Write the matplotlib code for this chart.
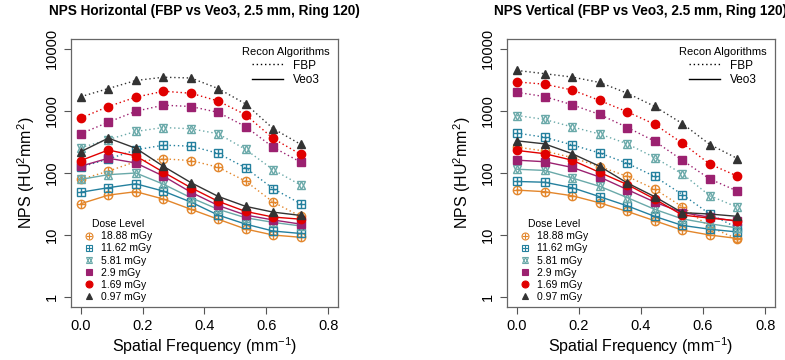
import matplotlib.pyplot as plt
from matplotlib.lines import Line2D
from matplotlib.legend_handler import HandlerTuple

plt.rcParams['font.family'] = ['Liberation Sans', 'DejaVu Sans']
plt.rcParams['mathtext.fontset'] = 'custom'
plt.rcParams['mathtext.rm'] = 'Liberation Sans'

# spatial frequency (mm^-1)
freq = [0.0, 0.089, 0.178, 0.267, 0.356, 0.444, 0.533, 0.622, 0.711]

dose_labels = ["18.88 mGy", "11.62 mGy", "5.81 mGy", "2.9 mGy", "1.69 mGy", "0.97 mGy"]

# NPS horizontal, FBP (order as dose_labels)
h_fbp = [
    [79, 107, 153, 169, 159, 124, 74, 34, 20],
    [125, 168, 236, 281, 271, 208, 121, 56, 32],
    [256, 346, 468, 541, 516, 430, 240, 113, 64],
    [430, 660, 990, 1240, 1180, 950, 560, 260, 150],
    [770, 1180, 1670, 2080, 1930, 1450, 870, 360, 200],
    [1700, 2300, 3100, 3500, 3400, 2300, 1300, 520, 290],
]
# NPS horizontal, Veo3
h_veo = [
    [32, 44, 50, 38, 26, 18, 12.5, 10, 9.2],
    [49, 58, 67, 51, 34, 21, 15, 11.6, 10.6],
    [79, 94, 100, 66, 40, 26, 19, 16, 14],
    [129, 173, 145, 89, 49, 30, 21, 17.5, 15],
    [159, 235, 188, 103, 58, 35, 24, 19.5, 18],
    [221, 365, 250, 128, 70, 42, 29, 23.4, 20.7],
]
# NPS vertical, FBP
v_fbp = [
    [262, 226, 177, 127, 88, 55, 28.6, 13.5, 8.6],
    [440, 377, 284, 210, 143, 88, 45, 21.8, 13],
    [845, 731, 553, 425, 295, 177, 97, 43, 28],
    [2000, 1705, 1260, 877, 541, 326, 161, 80, 51],
    [2940, 2700, 2180, 1475, 968, 610, 303, 139, 89],
    [4500, 3990, 3520, 2880, 1930, 1185, 627, 288, 171],
]
# NPS vertical, Veo3
v_veo = [
    [53, 50, 43, 33, 24, 17, 12, 10, 8.8],
    [73, 71, 58, 41.5, 29.5, 20, 14.3, 12.4, 11.2],
    [115, 110, 83, 61, 40, 26, 18.2, 15.2, 13],
    [161, 152, 123, 86, 54, 34, 23, 19.4, 16.6],
    [231, 205, 161, 102, 65, 38, 21, 18.7, 17],
    [330, 295, 205, 128, 69, 41.5, 23, 21.8, 20],
]

colors = ["#E3862B", "#24809E", "#6AA9A9", "#9B2170", "#E00000", "#333333"]
# each dose drawn as one or two overlaid markers (R pch 10, 12, 11, 15, 16, 17)
markers = [
    [("o", "none"), ("+", None)],
    [("s", "none"), ("+", None)],
    [("^", "none"), ("v", "none")],
    [("s", "full")],
    [("o", "full")],
    [("^", "full")],
]
dotted = (0, (1, 2))


def draw_series(ax, y, color, mk, ls):
    ax.plot(freq, y, color=color, lw=1, ls=ls)
    for m, fill in mk:
        kw = dict(marker=m, ms=6, color=color, ls="none", mew=1)
        if fill == "none":
            kw["mfc"] = "none"
        ax.plot(freq, y, **kw)


def marker_handle(color, mk):
    hs = []
    for m, fill in mk:
        kw = dict(marker=m, ms=5, color=color, ls="none", mew=0.8)
        if fill == "none":
            kw["mfc"] = "none"
        hs.append(Line2D([], [], **kw))
    return tuple(hs)


def setup_panel(ax, title, fbp, veo):
    for i in range(len(dose_labels)):
        draw_series(ax, fbp[i], colors[i], markers[i], dotted)
        draw_series(ax, veo[i], colors[i], markers[i], "-")
    ax.set_yscale("log")
    ax.set_xlim(-0.032, 0.832)
    ax.set_ylim(10 ** -0.16, 10 ** 4.16)
    ax.set_xticks([0.0, 0.2, 0.4, 0.6, 0.8])
    ax.set_xticklabels(["0.0", "0.2", "0.4", "0.6", "0.8"], fontsize=10.5)
    ax.set_yticks([1, 10, 100, 1000, 10000])
    ax.set_yticklabels(["1", "10", "100", "1000", "10000"], fontsize=10.5,
                       rotation=90, va="center")
    ax.minorticks_off()
    ax.tick_params(direction="out", length=5, color="#555555", width=0.8)
    for s in ax.spines.values():
        s.set_color("#666666")
        s.set_linewidth(0.9)
    ax.set_title(title, fontsize=9.8, fontweight="bold", pad=17)
    ax.set_xlabel("Spatial Frequency (mm$^{-1}$)", fontsize=11.5, labelpad=2)
    ax.set_ylabel("NPS (HU$^2$mm$^2$)", fontsize=11.5, labelpad=6)

    recon = [Line2D([], [], color="black", lw=1, ls=dotted),
             Line2D([], [], color="black", lw=1, ls="-")]
    leg1 = ax.legend(recon, ["FBP", "Veo3"], loc="upper right", frameon=False,
                     title="Recon Algorithms", fontsize=8.5, title_fontsize=8,
                     handlelength=2.6, borderaxespad=0.3, labelspacing=0.2)
    ax.add_artist(leg1)
    hs = [marker_handle(colors[i], markers[i]) for i in range(len(dose_labels))]
    ax.legend(hs, dose_labels, loc="lower left", frameon=False,
              title="Dose Level", fontsize=7.5, title_fontsize=7.5,
              handler_map={tuple: HandlerTuple(ndivide=1)},
              handlelength=1.0, handletextpad=0.6, labelspacing=0.2,
              borderaxespad=0.1, bbox_to_anchor=(0.03, 0.0))


fig = plt.figure(figsize=(7.85, 3.6), dpi=100)
ax1 = fig.add_axes([71 / 785, 53 / 360, 267 / 785, 268 / 360])
ax2 = fig.add_axes([507 / 785, 53 / 360, 268 / 785, 268 / 360])
setup_panel(ax1, "NPS Horizontal (FBP vs Veo3, 2.5 mm, Ring 120)", h_fbp, h_veo)
setup_panel(ax2, "NPS Vertical (FBP vs Veo3, 2.5 mm, Ring 120)", v_fbp, v_veo)

fig.savefig("out.png", dpi=100)
